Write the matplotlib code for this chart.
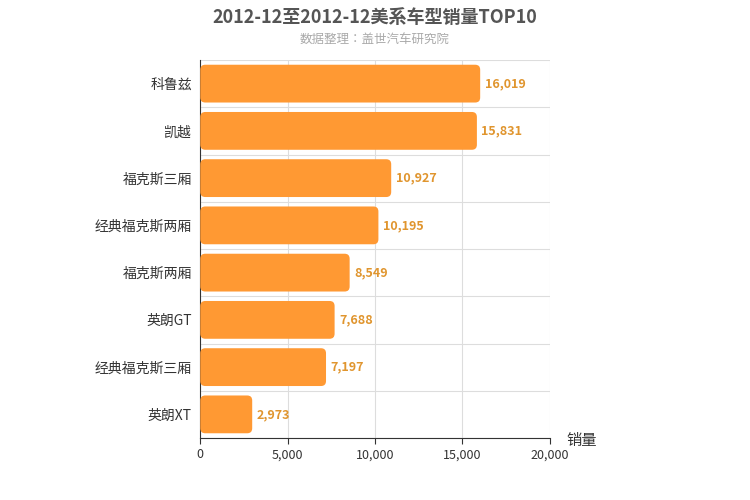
import matplotlib.pyplot as plt
from matplotlib.patches import FancyBboxPatch

plt.rcParams["font.family"] = ["Noto Sans CJK JP", "Noto Sans CJK SC", "DejaVu Sans"]

models = ["科鲁兹", "凯越", "福克斯三厢", "经典福克斯两厢", "福克斯两厢", "英朗GT", "经典福克斯三厢", "英朗XT"]
sales = [16019, 15831, 10927, 10195, 8549, 7688, 7197, 2973]
x_ticks = [0, 5000, 10000, 15000, 20000]

fig = plt.figure(figsize=(7.5, 5), dpi=100)
ax = fig.add_axes([0.267, 0.124, 0.466, 0.756])

n = len(models)
ax.set_xlim(0, 20000)
ax.set_ylim(0, n)

# px -> data conversion for rounded corners
x_per_px = 20000 / 350
y_per_px = n / 378
pad_px = 5
for i, (m, v) in enumerate(zip(models, sales)):
    yc = n - i - 0.5
    h = 0.8
    box = FancyBboxPatch(
        (pad_px * x_per_px, yc - h / 2 + pad_px * y_per_px),
        v - 2 * pad_px * x_per_px, h - 2 * pad_px * y_per_px,
        boxstyle=f"round,pad={pad_px * x_per_px}",
        mutation_aspect=y_per_px / x_per_px,
        facecolor="#FF9933", edgecolor="none", zorder=3)
    ax.add_patch(box)
    ax.text(v + 250, yc, f"{v:,}", va="center", ha="left",
            fontsize=9, color="#E0952E", fontweight="bold")

ax.set_yticks([n - i - 0.5 for i in range(n)])
ax.set_yticklabels(models, fontsize=10, color="#333333")
ax.set_yticks(range(n + 1), minor=True)
ax.set_xticks(x_ticks)
ax.set_xticklabels([f"{t:,}" for t in x_ticks], fontsize=9, color="#333333")
ax.tick_params(axis="y", which="major", length=0, pad=6)
ax.tick_params(axis="y", which="minor", length=0)
ax.tick_params(axis="x", length=4, color="#333333")
ax.grid(axis="x", color="#DDDDDD", linewidth=0.8, zorder=0)
ax.grid(axis="y", which="minor", color="#DDDDDD", linewidth=0.8, zorder=0)
for s in ["top", "right"]:
    ax.spines[s].set_visible(False)
ax.spines["left"].set_color("#333333")
ax.spines["bottom"].set_color("#333333")

fig.text(0.5, 0.965, "2012-12至2012-12美系车型销量TOP10", ha="center", va="center",
         fontsize=13, fontweight="bold", color="#555555")
fig.text(0.5, 0.922, "数据整理：盖世汽车研究院", ha="center", va="center",
         fontsize=9, color="#AAAAAA")
fig.text(0.755, 0.12, "销量", ha="left", va="center", fontsize=11, color="#333333")

fig.savefig("out.png", dpi=100)
